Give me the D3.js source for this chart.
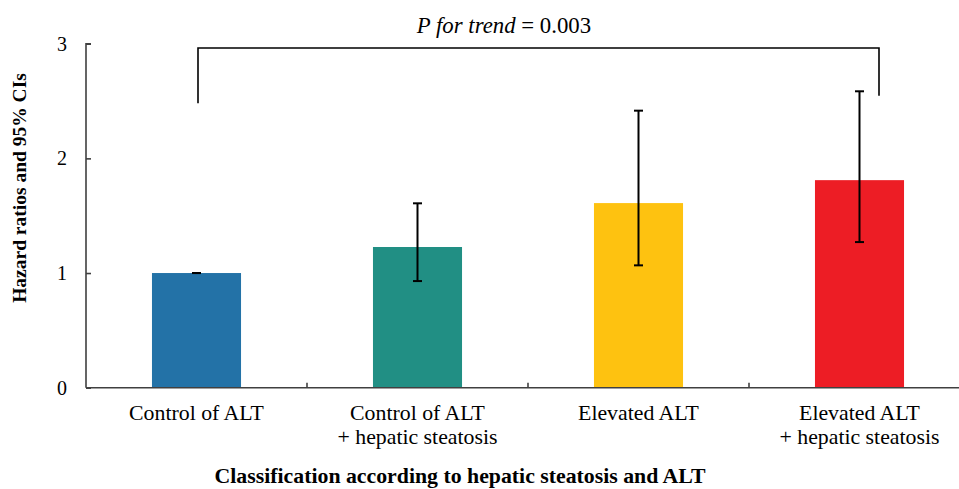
<!DOCTYPE html>
<html>
<head>
<meta charset="utf-8">
<script src="https://cdn.jsdelivr.net/npm/d3@7"></script>
<style>
  body { margin: 0; background: #fff; }
  text, tspan { font-family: "Liberation Serif", "Times New Roman", serif; fill: #000; }
</style>
</head>
<body>
<svg id="chart"></svg>
<script>
const categories = [
    ["Control of ALT"],
    ["Control of ALT", "+ hepatic steatosis"],
    ["Elevated ALT"],
    ["Elevated ALT", "+ hepatic steatosis"]
]
const hazardRatios = [1.0, 1.227, 1.61, 1.81]
const ciLower = [1.0, 0.93, 1.067, 1.27]
const ciUpper = [1.0, 1.608, 2.416, 2.585]
const barColors = ["#2372a7", "#218f84", "#fec210", "#ed1d25"]
const yTicks = [0, 1, 2, 3]
// bracket for the trend test: top level, left leg end, right leg end
const trendBracket = { top: 2.962, leftEnd: 2.48, rightEnd: 2.545 }
const trendText = ["P for trend", " = 0.003"]

const serif = "'Liberation Serif', 'Times New Roman', serif"
const width = 959
const height = 489
const margin = { left: 86, top: 43.7, bottom: 101.3 }
const plotRight = 970

const svg = d3.select("#chart")
    .attr("width", width)
    .attr("height", height)
    .attr("viewBox", [0, 0, width, height])

const x = d3.scaleBand()
    .domain(d3.range(categories.length))
    .range([margin.left, plotRight])
    .padding(0)

const y = d3.scaleLinear()
    .domain([0, 3])
    .range([height - margin.bottom, margin.top])

const barW = x.bandwidth() * 0.403
const cx = i => x(i) + x.bandwidth() / 2

// bars
svg.selectAll(".bar")
    .data(hazardRatios)
    .enter()
    .append("rect")
    .attr("class", "bar")
    .attr("x", (d, i) => cx(i) - barW / 2)
    .attr("y", d => y(d))
    .attr("width", barW)
    .attr("height", d => y(0) - y(d))
    .attr("fill", (d, i) => barColors[i])

// axes
const axisColor = "#404040"
const yAxis = svg.append("g")
    .attr("transform", `translate(${margin.left},0)`)
    .call(d3.axisRight(y).tickValues(yTicks).tickSize(5).tickFormat(""))
yAxis.select(".domain").attr("d", `M5,${y(3)}H0V${y(0)}`)
yAxis.selectAll("path, line").attr("stroke", axisColor).attr("stroke-width", 1.6)

svg.selectAll(".ylabel")
    .data(yTicks)
    .enter()
    .append("text")
    .attr("x", margin.left - 19)
    .attr("y", d => y(d) + 7)
    .attr("text-anchor", "end")
    .attr("font-family", serif)
    .style("font-size", "20px")
    .text(d => d)

const xAxisG = svg.append("g")
xAxisG.append("line")
    .attr("x1", margin.left).attr("x2", plotRight)
    .attr("y1", y(0)).attr("y2", y(0))
    .attr("stroke", axisColor).attr("stroke-width", 1.6)
xAxisG.selectAll(".xtick")
    .data(d3.range(1, categories.length + 1))
    .enter()
    .append("line")
    .attr("x1", i => x(0) + i * x.step()).attr("x2", i => x(0) + i * x.step())
    .attr("y1", y(0)).attr("y2", y(0) - 5)
    .attr("stroke", axisColor).attr("stroke-width", 1.6)

// category labels
svg.selectAll(".xlabel")
    .data(categories)
    .enter()
    .append("text")
    .attr("text-anchor", "middle")
    .attr("font-family", serif)
    .style("font-size", "21.8px")
    .each(function (lines, i) {
        d3.select(this).selectAll("tspan")
            .data(lines)
            .enter()
            .append("tspan")
            .attr("x", cx(i))
            .attr("y", (d, j) => 419.5 + j * 24.5)
            .text(d => d)
    })

// error bars
const capW = 9
const err = svg.append("g").attr("stroke", "#000").attr("stroke-width", 2)
hazardRatios.forEach((d, i) => {
    if (ciUpper[i] > ciLower[i]) {
        err.append("line")
            .attr("x1", cx(i)).attr("x2", cx(i))
            .attr("y1", y(ciUpper[i])).attr("y2", y(ciLower[i]))
    }
    ;[ciUpper[i], ciLower[i]].forEach(v => {
        err.append("line")
            .attr("x1", cx(i) - capW / 2).attr("x2", cx(i) + capW / 2)
            .attr("y1", y(v)).attr("y2", y(v))
    })
})

// trend bracket
const bx0 = cx(0) + 1.5
const bx1 = cx(3) + 19.5
svg.append("path")
    .attr("d", `M${bx0},${y(trendBracket.leftEnd)}V${y(trendBracket.top)}H${bx1}V${y(trendBracket.rightEnd)}`)
    .attr("fill", "none")
    .attr("stroke", "#000")
    .attr("stroke-width", 1.6)

const tt = svg.append("text")
    .attr("x", 504)
    .attr("y", 32.5)
    .attr("text-anchor", "middle")
    .attr("font-family", serif)
    .style("font-size", "22.8px")
tt.append("tspan").style("font-style", "italic").text(trendText[0])
tt.append("tspan").text(trendText[1])

// axis titles
svg.append("text")
    .attr("transform", `translate(26,188) rotate(-90)`)
    .attr("text-anchor", "middle")
    .attr("font-family", serif)
    .style("font-size", "19.5px")
    .style("font-weight", "bold")
    .text("Hazard ratios and 95% CIs")

svg.append("text")
    .attr("x", 460)
    .attr("y", 483)
    .attr("text-anchor", "middle")
    .attr("font-family", serif)
    .style("font-size", "21.8px")
    .style("font-weight", "bold")
    .text("Classification according to hepatic steatosis and ALT")
</script>
</body>
</html>
